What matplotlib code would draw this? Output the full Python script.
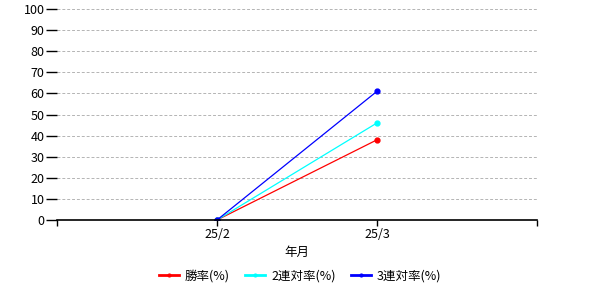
import matplotlib
matplotlib.use("Agg")
import matplotlib.pyplot as plt

plt.rcParams['font.family'] = ['Noto Sans CJK JP', 'DejaVu Sans']

months = ["25/2", "25/3"]
win_rate = [0, 38]
top2_rate = [0, 46]
top3_rate = [0, 61]
series_names = ["勝率(%)", "2連対率(%)", "3連対率(%)"]
colors = ["#ff0000", "#00ffff", "#0000ff"]
yticks = list(range(0, 101, 10))

fig = plt.figure(figsize=(6, 3), dpi=100)
ax = fig.add_axes([57/600, 1-220/300, 480/600, 211/300])

xs = [1, 2]
for vals, name, c in zip([win_rate, top2_rate, top3_rate], series_names, colors):
    ax.plot(xs, vals, color=c, lw=0.9, marker='o', ms=3.5, label=name)

ax.set_xlim(0, 3)
ax.set_ylim(0, 100)
ax.set_yticks(yticks)
ax.set_yticklabels([str(v) for v in yticks], fontsize=9)
ax.set_xticks(xs)
ax.set_xticklabels(months, fontsize=9)
ax.set_xticks([0, 3], minor=True)
ax.tick_params(axis='x', which='minor', length=4, width=1, color='black')
ax.tick_params(axis='x', which='major', length=4, width=1, pad=2)
ax.tick_params(axis='y', length=8, width=1, pad=1)
for s in ['top', 'right', 'left']:
    ax.spines[s].set_visible(False)
ax.spines['bottom'].set_linewidth(1.2)
for v in yticks[1:]:
    ax.axhline(v, color='#b4b4b4', lw=0.7, ls=(0, (3, 2)), zorder=0)
ax.set_xlabel("年月", fontsize=9, labelpad=3)

leg = fig.legend(loc='center', bbox_to_anchor=(0.5, 1-276/300), ncol=3, frameon=False,
                 fontsize=9, handlelength=1.6, columnspacing=1.2, handletextpad=0.5)
for line in leg.get_lines():
    line.set_linewidth(2)
    line.set_markersize(2)

fig.savefig("out.png", dpi=100)
